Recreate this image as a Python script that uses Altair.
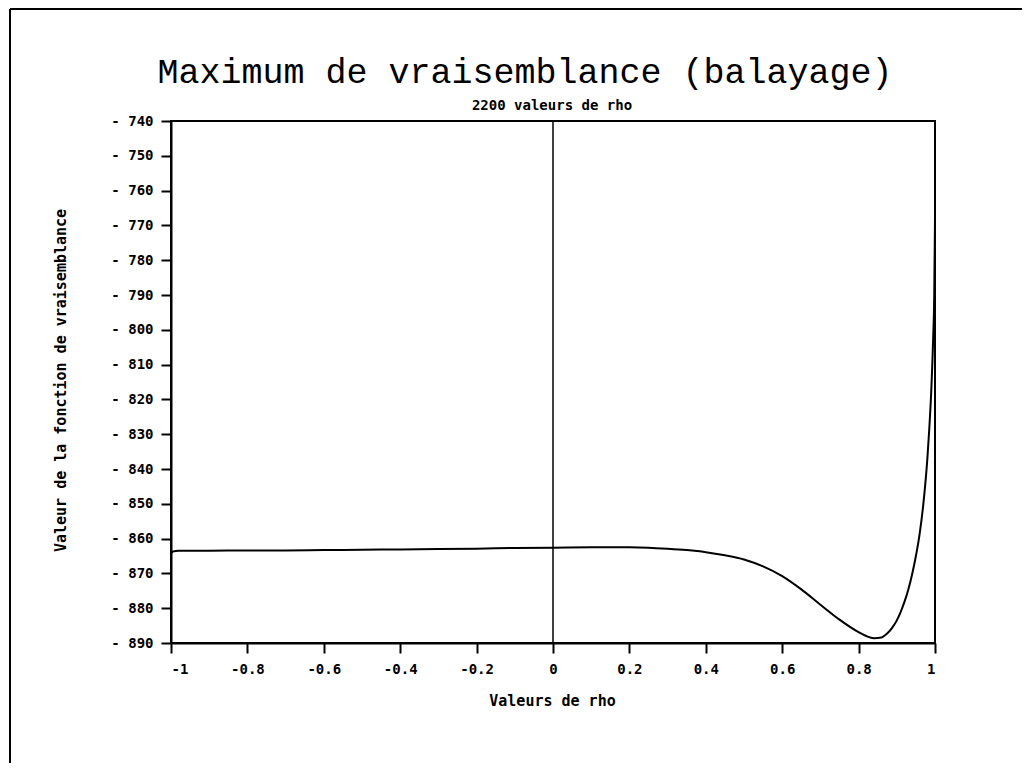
import altair as alt
import pandas as pd

# Curve
rho = [-1.0, -0.995, -0.98, -0.9, -0.8, -0.7, -0.6, -0.5, -0.4, -0.3, -0.2, -0.1,
       0.0, 0.1, 0.2, 0.25, 0.3, 0.35, 0.4, 0.45, 0.5, 0.55, 0.6, 0.65, 0.7, 0.75,
       0.8, 0.82, 0.84, 0.86, 0.87, 0.88, 0.89, 0.9, 0.91, 0.92, 0.93, 0.94, 0.95,
       0.96, 0.97, 0.98, 0.985, 0.99, 0.995, 0.998, 1.0]
loglik = [-864.2, -863.7, -863.5, -863.5, -863.4, -863.4, -863.3, -863.2, -863.1, -863.0,
          -862.9, -862.7, -862.6, -862.5, -862.5, -862.6, -862.9, -863.3, -863.9, -864.8,
          -866.0, -868.0, -870.8, -874.6, -879.0, -883.3, -886.9, -888.0, -888.6, -888.4,
          -887.7, -886.7, -885.3, -883.5, -881.1, -878.2, -874.7, -870.3, -865.0,
          -858.5, -849.5, -837.0, -828.5, -818.0, -803.0, -790.0, -768.0]

x_ticks = [-1.0, -0.9, -0.8, -0.7, -0.6, -0.5, -0.4, -0.3, -0.2, -0.1, 0.0,
           0.1, 0.2, 0.3, 0.4, 0.5, 0.6, 0.7, 0.8, 0.9, 1.0]
y_ticks = [-740, -750, -760, -770, -780, -790, -800, -810, -820, -830, -840,
           -850, -860, -870, -880, -890]

title_text = "Maximum de vraisemblance (balayage)"
subtitle_text = "2200 valeurs de rho"
x_title = "Valeurs de rho"
y_title = "Valeur de la fonction de vraisemblance"

df = pd.DataFrame({"rho": rho, "loglik": loglik})
one = pd.DataFrame({"k": [0]})

W, H = 764, 522
FONT = "DejaVu Sans Mono"

x_enc = alt.X(
    "rho:Q",
    scale=alt.Scale(domain=[-1, 1], nice=False, zero=False),
    axis=alt.Axis(
        values=x_ticks,
        labelExpr="(abs(round(datum.value*10)) % 2 == 0) ? ((datum.value < 0 ? '-' : '') + format(abs(datum.value), '.1~f')) : ''",
        title=x_title,
        titleX=381, titleY=57, titleBaseline="middle",
        titleFont=FONT, titleFontSize=15, titleFontWeight="bold",
        labelFont=FONT, labelFontSize=14, labelFontWeight="bold",
        labelPadding=9, tickSize=10, tickWidth=2, tickColor="black",
        domainColor="black", domainWidth=2, grid=False, labelColor="black",
        titleColor="black",
    ),
)
y_enc = alt.Y(
    "loglik:Q",
    scale=alt.Scale(domain=[-890, -740], nice=False, zero=False),
    axis=alt.Axis(
        values=y_ticks,
        labelExpr="'- ' + abs(datum.value)",
        title=y_title,
        titleX=-111, titleY=259, titleAngle=-90, titleBaseline="middle",
        titleFont=FONT, titleFontSize=15, titleFontWeight="bold",
        labelFont=FONT, labelFontSize=14, labelFontWeight="bold",
        labelPadding=8, tickSize=10, tickWidth=2, tickColor="black",
        domainColor="black", domainWidth=2, grid=False, labelColor="black",
        titleColor="black",
    ),
)

curve = alt.Chart(df).mark_line(color="black", strokeWidth=2, interpolate="monotone").encode(
    x=x_enc, y=y_enc
)

zero_line = alt.Chart(one).mark_rule(color="black", strokeWidth=1.5).encode(x=alt.datum(0))

frame_left = alt.Chart(one).mark_rule(color="black", strokeWidth=2).encode(
    x=alt.value(-161), y=alt.value(-112), y2=alt.value(H + 120)
)
frame_top = alt.Chart(one).mark_rule(color="black", strokeWidth=2).encode(
    x=alt.value(-161), x2=alt.value(W + 87), y=alt.value(-112)
)

title = alt.Chart(one).mark_text(
    font="Liberation Mono", fontSize=35, fontWeight="normal", color="black",
    align="center", baseline="alphabetic",
).encode(x=alt.value(354), y=alt.value(-38), text=alt.value(title_text))

subtitle = alt.Chart(one).mark_text(
    font=FONT, fontSize=14, fontWeight="bold", color="black",
    align="center", baseline="alphabetic",
).encode(x=alt.value(381), y=alt.value(-11), text=alt.value(subtitle_text))

chart = alt.layer(frame_left, frame_top, zero_line, curve, title, subtitle).properties(
    width=W, height=H,
    autosize=alt.AutoSizeParams(type="none"),
    padding={"left": 163, "top": 113, "right": 87, "bottom": 120},
    background="white",
).configure_view(stroke="black", strokeWidth=2)

chart.save("out.html", embed_options={"renderer": "svg", "actions": False})
